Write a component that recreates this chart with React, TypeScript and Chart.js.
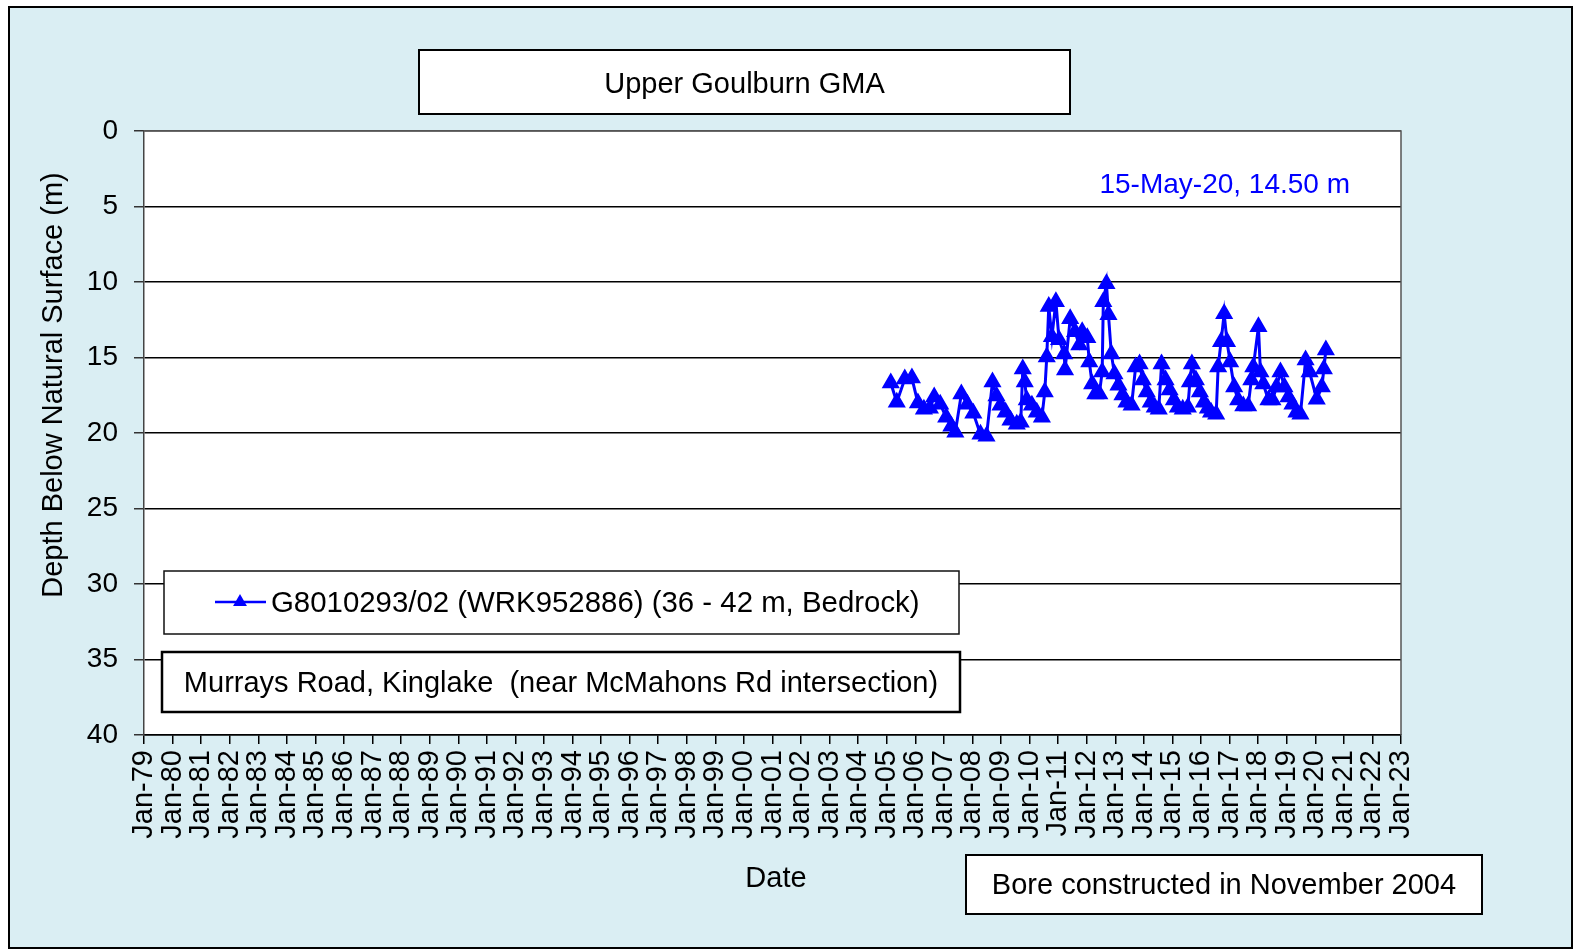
import React, { useEffect, useRef } from 'react';
import { Chart, registerables } from 'chart.js';

Chart.register(...registerables);

// ---- data (decimal years, depth below natural surface in m) ----
const sampleDates: number[] = [
  2005.14, 2005.35, 2005.63, 2005.88, 2006.09, 2006.3, 2006.51, 2006.66, 2006.87, 2007.08,
  2007.26, 2007.4, 2007.61, 2007.82, 2008.03, 2008.28, 2008.49, 2008.7, 2008.84, 2008.98,
  2009.16, 2009.33, 2009.55, 2009.69, 2009.76, 2009.83, 2009.9, 2010.08, 2010.25, 2010.43,
  2010.53, 2010.6, 2010.67, 2010.78, 2010.92, 2011.03, 2011.21, 2011.24, 2011.42, 2011.59,
  2011.74, 2011.84, 2012.02, 2012.09, 2012.19, 2012.3, 2012.44, 2012.54, 2012.58, 2012.69,
  2012.76, 2012.86, 2012.97, 2013.11, 2013.25, 2013.39, 2013.57, 2013.71, 2013.85, 2013.96,
  2014.1, 2014.24, 2014.38, 2014.52, 2014.62, 2014.76, 2014.9, 2015.05, 2015.19, 2015.36,
  2015.54, 2015.61, 2015.68, 2015.82, 2015.96, 2016.1, 2016.24, 2016.35, 2016.53, 2016.6,
  2016.7, 2016.81, 2016.91, 2017.02, 2017.16, 2017.3, 2017.48, 2017.65, 2017.76, 2017.83,
  2018.01, 2018.08, 2018.18, 2018.36, 2018.5, 2018.64, 2018.78, 2018.92, 2019.06, 2019.2,
  2019.34, 2019.48, 2019.66, 2019.8, 2020.05, 2020.23, 2020.3, 2020.37,
];

const depths: number[] = [
  16.69, 17.96, 16.43, 16.36, 18.02, 18.42, 18.36, 17.62, 18.09, 18.96,
  19.55, 19.95, 17.42, 18.09, 18.69, 20.09, 20.22, 16.62, 17.55, 18.16,
  18.62, 19.16, 19.42, 19.29, 15.76, 16.62, 17.82, 18.16, 18.62, 18.96,
  17.29, 14.96, 11.63, 13.63, 11.3, 13.83, 14.76, 15.83, 12.44, 13.3,
  14.17, 13.3, 13.7, 15.3, 16.76, 17.42, 17.42, 15.96, 11.3, 10.11,
  12.17, 14.76, 16.09, 16.83, 17.49, 17.96, 18.16, 15.63, 15.43, 16.49,
  17.29, 17.96, 18.29, 18.42, 15.43, 16.49, 17.16, 17.82, 18.29, 18.42,
  18.29, 16.62, 15.43, 16.49, 17.29, 17.96, 18.36, 18.62, 18.76, 15.63,
  13.96, 12.1, 13.96, 15.3, 16.96, 17.82, 18.22, 18.22, 16.49, 15.63,
  12.97, 15.96, 16.76, 17.82, 17.82, 16.96, 15.96, 16.96, 17.62, 18.09,
  18.62, 18.76, 15.16, 15.96, 17.76, 16.96, 15.76, 14.5,
];

const yTickValues: number[] = [0, 5, 10, 15, 20, 25, 30, 35, 40];
const xFirstYear = 1979;
const xLastYear = 2023;
const monthLabel = 'Jan';

const seriesLabel = 'G8010293/02 (WRK952886) (36 - 42 m, Bedrock)';
const chartTitle = 'Upper Goulburn GMA';
const locationText = 'Murrays Road, Kinglake  (near McMahons Rd intersection)';
const boreText = 'Bore constructed in November 2004';
const latestText = '15-May-20, 14.50 m';
const yTitle = 'Depth Below Natural Surface (m)';
const xTitle = 'Date';

const FONT = '"Liberation Sans", Arial, Helvetica, sans-serif';
const BLUE = '#0000FF';
const BG = '#DAEEF3';
const TXT = 29;

function drawBox(ctx: CanvasRenderingContext2D, x1: number, y1: number, x2: number, y2: number, lw: number, color: string) {
  ctx.save();
  ctx.fillStyle = '#FFFFFF';
  ctx.fillRect(x1, y1, x2 - x1, y2 - y1);
  ctx.lineWidth = lw;
  ctx.strokeStyle = color;
  ctx.strokeRect(x1, y1, x2 - x1, y2 - y1);
  ctx.restore();
}

const decorPlugin = {
  id: 'decor',
  beforeDraw(chart: any) {
    const ctx: CanvasRenderingContext2D = chart.ctx;
    const { width, height, chartArea } = chart;
    ctx.save();
    ctx.fillStyle = '#FFFFFF';
    ctx.fillRect(0, 0, width, height);
    ctx.fillStyle = BG;
    ctx.fillRect(9, 7, 1563, 941);
    ctx.lineWidth = 2;
    ctx.strokeStyle = '#000';
    ctx.strokeRect(9, 7, 1563, 941);
    ctx.fillStyle = '#FFFFFF';
    ctx.fillRect(chartArea.left, chartArea.top, chartArea.right - chartArea.left, chartArea.bottom - chartArea.top);
    ctx.restore();
  },
  beforeDatasetsDraw(chart: any) {
    const ctx: CanvasRenderingContext2D = chart.ctx;
    const { chartArea } = chart;
    ctx.save();
    ctx.strokeStyle = '#555';
    ctx.lineWidth = 1.5;
    ctx.beginPath();
    ctx.moveTo(chartArea.left, chartArea.top);
    ctx.lineTo(chartArea.right, chartArea.top);
    ctx.lineTo(chartArea.right, chartArea.bottom);
    ctx.stroke();
    ctx.restore();
  },
  afterDraw(chart: any) {
    const ctx: CanvasRenderingContext2D = chart.ctx;
    const ds = chart.data.datasets[0];
    ctx.save();
    ctx.textBaseline = 'middle';
    ctx.font = `${TXT}px ${FONT}`;

    // Axis titles
    ctx.fillStyle = '#000';
    ctx.textAlign = 'center';
    ctx.fillText(xTitle, 776, 879);
    ctx.save();
    ctx.translate(54, 385);
    ctx.rotate(-Math.PI / 2);
    ctx.fillText(yTitle, 0, 0);
    ctx.restore();

    // Title box
    drawBox(ctx, 419, 50, 1070, 114, 2, '#000');
    ctx.fillStyle = '#000';
    ctx.textAlign = 'center';
    ctx.fillText(chartTitle, 744.5, 85);

    // Latest reading annotation
    ctx.font = `28px ${FONT}`;
    ctx.fillStyle = BLUE;
    ctx.textAlign = 'right';
    ctx.fillText(latestText, 1350, 185);
    ctx.font = `${TXT}px ${FONT}`;

    // Legend box
    drawBox(ctx, 164, 571, 959, 634, 1.5, '#111');
    ctx.strokeStyle = ds.borderColor;
    ctx.lineWidth = 2.5;
    ctx.beginPath();
    ctx.moveTo(215, 602);
    ctx.lineTo(266, 602);
    ctx.stroke();
    ctx.fillStyle = ds.backgroundColor;
    const r = 8;
    ctx.beginPath();
    ctx.moveTo(240, 602 - r);
    ctx.lineTo(240 + r * 0.866, 602 + r * 0.5);
    ctx.lineTo(240 - r * 0.866, 602 + r * 0.5);
    ctx.closePath();
    ctx.fill();
    ctx.fillStyle = '#000';
    ctx.textAlign = 'left';
    ctx.font = `29.4px ${FONT}`;
    ctx.fillText(ds.label, 271, 604);
    ctx.font = `${TXT}px ${FONT}`;

    // Location box
    drawBox(ctx, 162, 652, 960, 712, 2.5, '#000');
    ctx.fillStyle = '#000';
    ctx.textAlign = 'center';
    ctx.fillText(locationText, 561, 684);

    // Bore box
    drawBox(ctx, 966, 855, 1482, 914, 2, '#000');
    ctx.fillStyle = '#000';
    ctx.textAlign = 'center';
    ctx.fillText(boreText, 1224, 886);

    ctx.restore();
  },
};

export default function App() {
  const canvasRef = useRef<HTMLCanvasElement | null>(null);

  useEffect(() => {
    document.body.style.margin = '0';
    const canvas = canvasRef.current;
    if (!canvas) return;
    const points = sampleDates.map((d, i) => ({ x: d, y: depths[i] }));
    const chart = new Chart(canvas, {
      type: 'line',
      data: {
        datasets: [
          {
            label: seriesLabel,
            data: points,
            borderColor: BLUE,
            backgroundColor: BLUE,
            borderWidth: 3,
            pointStyle: 'triangle',
            pointRadius: 8.5,
            pointBorderWidth: 2,
            pointBackgroundColor: BLUE,
            pointBorderColor: BLUE,
            tension: 0,
          },
        ],
      },
      options: {
        responsive: false,
        animation: false,
        devicePixelRatio: 1,
        layout: { padding: { top: 131, right: 174, left: 0, bottom: 0 } },
        plugins: {
          legend: { display: false },
          tooltip: { enabled: false },
          title: { display: false },
        },
        scales: {
          x: {
            type: 'linear',
            min: xFirstYear,
            max: xLastYear,
            afterFit: (s: any) => {
              s.height = 217;
            },
            ticks: {
              stepSize: 1,
              maxTicksLimit: 100,
              autoSkip: false,
              minRotation: 90,
              maxRotation: 90,
              padding: 6,
              color: '#000',
              font: { family: FONT, size: TXT },
              callback: (v: any) => `${monthLabel}-${String(Number(v) % 100).padStart(2, '0')}`,
            },
            grid: { drawOnChartArea: false, drawTicks: true, tickLength: 9, color: '#000', lineWidth: 1.5 },
            border: { color: '#000', width: 1.5 },
            title: { display: false },
          },
          y: {
            type: 'linear',
            reverse: true,
            min: yTickValues[0],
            max: yTickValues[yTickValues.length - 1],
            afterFit: (s: any) => {
              s.width = 144;
            },
            afterBuildTicks: (s: any) => {
              s.ticks = yTickValues.map((v) => ({ value: v }));
            },
            ticks: {
              stepSize: 5,
              padding: 16,
              color: '#000',
              font: { family: FONT, size: 28 },
            },
            grid: {
              color: (c: any) => (c.tick && c.tick.value === 0 ? '#555' : '#000'),
              lineWidth: 1.5,
              tickLength: 10,
              tickColor: '#333',
            },
            border: { color: '#444', width: 1.5 },
            title: { display: false },
          },
        },
      },
      plugins: [decorPlugin],
    } as any);
    return () => chart.destroy();
  }, []);

  return (
    <div style={{ width: 1575, height: 952 }}>
      <canvas ref={canvasRef} width={1575} height={952} style={{ display: 'block', width: 1575, height: 952 }} />
    </div>
  );
}
